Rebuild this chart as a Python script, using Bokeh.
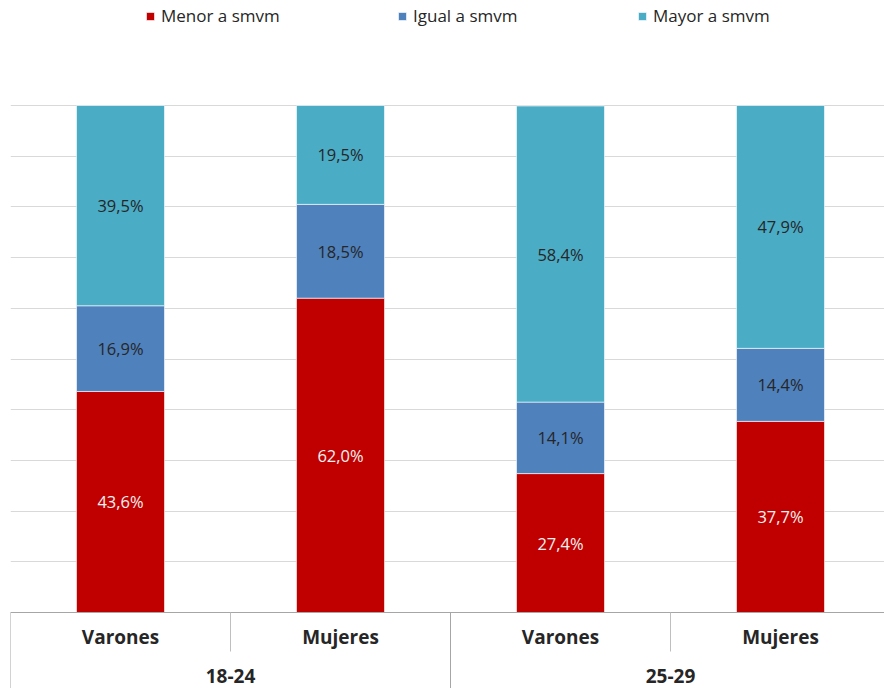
from bokeh.plotting import figure
from bokeh.models import ColumnDataSource, Range1d, FixedTicker, Legend, LegendItem
from bokeh.core.properties import value
from bokeh.embed import file_html
from bokeh.resources import INLINE

# ---- data ----
groups = ["18-24", "18-24", "25-29", "25-29"]
sexes = ["Varones", "Mujeres", "Varones", "Mujeres"]
group_labels = ["18-24", "25-29"]
series_names = ["Menor a smvm", "Igual a smvm", "Mayor a smvm"]
menor = [43.6, 62.0, 27.4, 37.7]
igual = [16.9, 18.5, 14.1, 14.4]
mayor = [39.5, 19.5, 58.4, 47.9]
colors = ["#C00000", "#4F81BD", "#4BACC6"]

FONT = "Open Sans"
W, H = 884, 688
LEFT = 10
px_per_unit = 220.0          # pixels per category slot
frame_w = W - LEFT
y_scale = 5.07               # pixels per percent
zero_px = 612                # zero line, px from figure top
y_top = zero_px / y_scale
y_bot = -(H - zero_px) / y_scale

xs = [i + 0.5 for i in range(len(sexes))]
src = ColumnDataSource(dict(x=xs, menor=menor, igual=igual, mayor=mayor))

p = figure(width=W, height=H, output_backend="svg", toolbar_location=None,
           x_range=Range1d(0, frame_w / px_per_unit), y_range=Range1d(y_bot, y_top),
           min_border_left=LEFT, min_border_right=0, min_border_top=0, min_border_bottom=0)
p.outline_line_color = None
p.xaxis.visible = False
p.yaxis.visible = False
p.xgrid.visible = False
p.ygrid.ticker = FixedTicker(ticks=list(range(0, 101, 10)))
p.ygrid.grid_line_color = "#D9D9D9"
p.ygrid.grid_line_width = 1
p.background_fill_color = "white"
p.border_fill_color = "white"

rs = p.vbar_stack(["menor", "igual", "mayor"], x="x", width=0.4, source=src,
                  color=colors, line_color="white", line_width=0.6)

# data labels
lab_x, lab_y, lab_t, lab_c = [], [], [], []
for i, x in enumerate(xs):
    base = 0.0
    for vals, tc in ((menor, "#F2F2F2"), (igual, "#262626"), (mayor, "#262626")):
        v = vals[i]
        lab_x.append(x)
        lab_y.append(base + v / 2)
        lab_t.append(f"{v:.1f}".replace(".", ",") + "%")
        lab_c.append(tc)
        base += v
p.text(x=lab_x, y=lab_y, text=lab_t, text_color=lab_c, text_align="center",
       text_baseline="middle", text_font=value(FONT), text_font_size="16.5px")

# category axis box
line_gray = "#A6A6A6"
n = len(sexes)
p.segment(x0=[0], y0=[0], x1=[n], y1=[0], line_color=line_gray, line_width=1)
short_y = -39 / y_scale
sep_x = [i for i in range(n + 1) if i % 2 == 1]
grp_x = [i for i in range(n + 1) if i % 2 == 0]
p.segment(x0=sep_x, y0=[0] * len(sep_x), x1=sep_x, y1=[short_y] * len(sep_x),
          line_color="#BFBFBF", line_width=1)
p.segment(x0=grp_x, y0=[0] * len(grp_x), x1=grp_x, y1=[y_bot] * len(grp_x),
          line_color=line_gray, line_width=1)

p.text(x=xs, y=[-24 / y_scale] * n, text=sexes, text_align="center",
       text_baseline="middle", text_font=value(FONT), text_font_style="bold",
       text_font_size="19px", text_color="#262626")
p.text(x=[1, 3], y=[-63 / y_scale] * 2, text=group_labels, text_align="center",
       text_baseline="middle", text_font=value(FONT), text_font_style="bold",
       text_font_size="19px", text_color="#262626")

# legend: one entry per series, placed at the reference positions
leg_x = [135, 387, 627]
for k in range(3):
    lg = Legend(items=[LegendItem(label=series_names[k], renderers=[rs[k]])],
                orientation="horizontal", location=(leg_x[k], H - 27), padding=0, margin=0,
                glyph_width=10, glyph_height=10, label_standoff=6,
                label_text_font=FONT, label_text_font_size="17px",
                label_text_color="#262626", border_line_color=None,
                background_fill_alpha=0, label_height=18)
    p.add_layout(lg, "center")

open("out.html", "w").write(file_html(p, INLINE))
